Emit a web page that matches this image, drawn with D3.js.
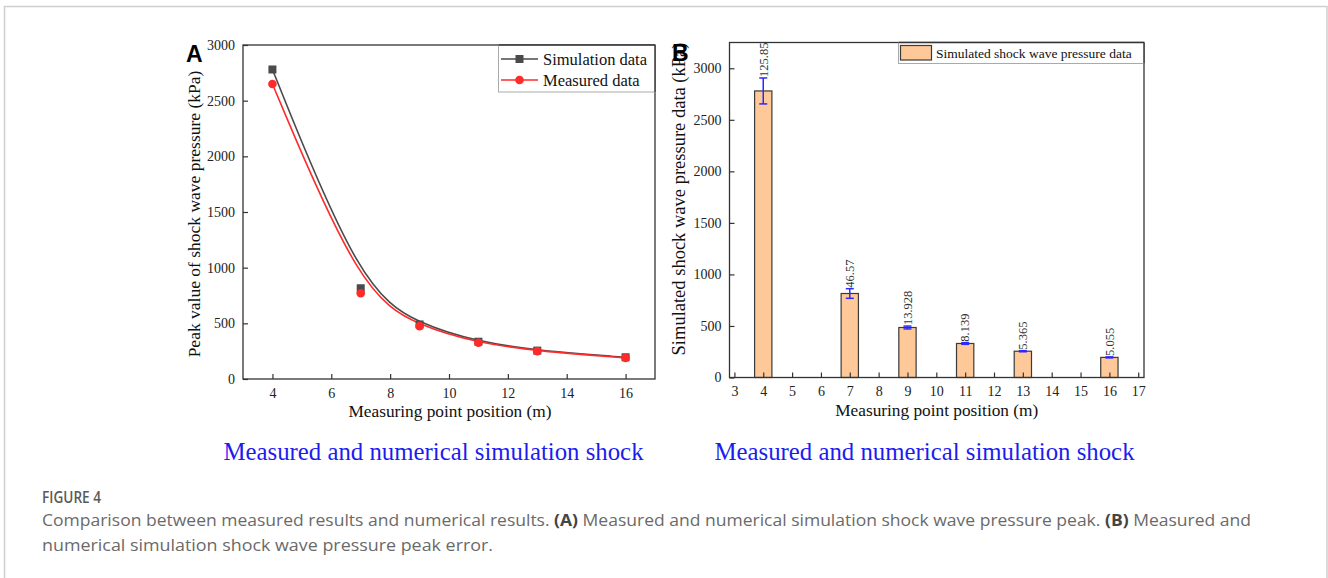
<!DOCTYPE html>
<html><head><meta charset="utf-8">
<script src="https://cdn.jsdelivr.net/npm/d3@7"></script>
<style>
html,body{margin:0;padding:0;background:#fff;}
svg{display:block;}
</style></head>
<body>
<svg id="c" width="1328" height="578"></svg>
<script>
// ---------- DATA ----------
const positions = [4, 7, 9, 11, 13, 16];
const simulationData = [2780, 815, 490, 335, 255, 195];
const measuredData = [2650, 770, 475, 325, 250, 190];
const barValues = [2780, 815, 485, 330, 255, 195];
const barErrors = [125.85, 46.57, 13.928, 8.139, 5.365, 5.055];
const barLabels = ["125.85", "46.57", "13.928", "8.139", "5.365", "5.055"];
const xTicksA = [4, 6, 8, 10, 12, 14, 16];
const yTicksA = [0, 500, 1000, 1500, 2000, 2500, 3000];
const xTicksB = [3,4,5,6,7,8,9,10,11,12,13,14,15,16,17];
const yTicksB = [0, 500, 1000, 1500, 2000, 2500, 3000];
const seriesNamesA = ["Simulation data", "Measured data"];
const seriesNameB = "Simulated shock wave pressure data";

const svg = d3.select("#c");
const serif = "'Liberation Serif','Times New Roman',serif";
const axisCol = "#333";
const fmt = d3.format("d");

// figure frame
svg.append("rect").attr("x",4.5).attr("y",6.5).attr("width",1322.5).attr("height",640)
  .attr("fill","none").attr("stroke","#cfcfcf").attr("stroke-width",1.5);

// ---------- PANEL A ----------
const A = {l:243, r:655, t:45, b:379};
const xA = d3.scaleLinear().domain([3,17]).range([A.l,A.r]);
const yA = d3.scaleLinear().domain([0,3000]).range([A.b,A.t]);
const gA = svg.append("g");

const axA = gA.append("g").attr("transform",`translate(0,${A.b})`)
  .call(d3.axisBottom(xA).tickValues(xTicksA).tickFormat(fmt).tickSizeInner(-5).tickSizeOuter(0).tickPadding(9));
const ayA = gA.append("g").attr("transform",`translate(${A.l},0)`)
  .call(d3.axisLeft(yA).tickValues(yTicksA).tickFormat(fmt).tickSizeInner(-5).tickSizeOuter(0).tickPadding(8));
[axA, ayA].forEach(a=>{
  a.select(".domain").remove();
  a.selectAll("line").attr("stroke",axisCol).attr("stroke-width",1.2);
  a.selectAll("text").attr("font-family",serif).attr("font-size",14).attr("fill","#222");
});
gA.append("rect").attr("x",A.l).attr("y",A.t).attr("width",A.r-A.l).attr("height",A.b-A.t)
  .attr("fill","none").attr("stroke",axisCol).attr("stroke-width",1.3);

const lineA = d3.line().x((d,i)=>xA(positions[i])).y(d=>yA(d)).curve(d3.curveBasis);
const grayC = "#4a4a4a", redC = "#ff2a2a";
gA.append("path").attr("d",lineA(simulationData)).attr("fill","none").attr("stroke",grayC).attr("stroke-width",1.6);
gA.append("path").attr("d",lineA(measuredData)).attr("fill","none").attr("stroke",redC).attr("stroke-width",1.6);
gA.selectAll("rect.sq").data(simulationData).join("rect").attr("class","sq")
  .attr("x",(d,i)=>xA(positions[i])-4).attr("y",d=>yA(d)-4).attr("width",8).attr("height",8).attr("fill",grayC);
gA.selectAll("circle.ms").data(measuredData).join("circle").attr("class","ms")
  .attr("cx",(d,i)=>xA(positions[i])).attr("cy",d=>yA(d)).attr("r",4.3).attr("fill",redC);

// legend A
gA.append("rect").attr("x",498.5).attr("y",A.t).attr("width",A.r-498.5).attr("height",47)
  .attr("fill","#fff").attr("stroke","#aaa").attr("stroke-width",1);
gA.append("line").attr("x1",A.r).attr("x2",A.r).attr("y1",A.t).attr("y2",A.t+47).attr("stroke",axisCol).attr("stroke-width",1.3);
gA.append("line").attr("x1",498.5).attr("x2",A.r).attr("y1",A.t).attr("y2",A.t).attr("stroke",axisCol).attr("stroke-width",1.3);
const legA = [{c:grayC, y:59, m:"sq"},{c:redC, y:80, m:"ci"}];
legA.forEach((L,i)=>{
  gA.append("line").attr("x1",501).attr("x2",538).attr("y1",L.y).attr("y2",L.y).attr("stroke",L.c).attr("stroke-width",1.6);
  if(L.m==="sq") gA.append("rect").attr("x",515.5).attr("y",L.y-4).attr("width",8).attr("height",8).attr("fill",L.c);
  else gA.append("circle").attr("cx",519.5).attr("cy",L.y).attr("r",4.3).attr("fill",L.c);
  gA.append("text").attr("x",543).attr("y",L.y+5.5).text(seriesNamesA[i])
    .attr("font-family",serif).attr("font-size",16.5).attr("fill","#111");
});

// axis titles A
gA.append("text").attr("x",(A.l+A.r)/2+1).attr("y",417).attr("text-anchor","middle")
  .attr("font-family",serif).attr("font-size",17.3).attr("fill","#111").text("Measuring point position (m)");
gA.append("text").attr("transform",`translate(200,${(A.t+A.b)/2+2}) rotate(-90)`).attr("text-anchor","middle")
  .attr("font-family",serif).attr("font-size",17.5).attr("fill","#111").text("Peak value of shock wave pressure (kPa)");
gA.append("text").attr("x",186).attr("y",62).attr("font-family","'Liberation Sans',Arial,sans-serif")
  .attr("font-weight","bold").attr("font-size",23).attr("fill","#000").text("A");

// ---------- PANEL B ----------
const B = {l:729.5, r:1144, t:42.5, b:377.5};
const xB = d3.scaleLinear().domain([2.83,17.2]).range([B.l,B.r]);
const yB = d3.scaleLinear().domain([0,3250]).range([B.b,B.t]);
const gB = svg.append("g");

const barW = xB(4.6)-xB(4);
gB.selectAll("rect.bar").data(barValues).join("rect").attr("class","bar")
  .attr("x",(d,i)=>xB(positions[i])-barW/2).attr("y",d=>yB(d))
  .attr("width",barW).attr("height",d=>B.b-yB(d))
  .attr("fill","#fec898").attr("stroke","#3a3a3a").attr("stroke-width",1.2);

const axB = gB.append("g").attr("transform",`translate(0,${B.b})`)
  .call(d3.axisBottom(xB).tickValues(xTicksB).tickFormat(fmt).tickSizeInner(-5).tickSizeOuter(0).tickPadding(9));
const ayB = gB.append("g").attr("transform",`translate(${B.l},0)`)
  .call(d3.axisLeft(yB).tickValues(yTicksB).tickFormat(fmt).tickSizeInner(-5).tickSizeOuter(0).tickPadding(8));
[axB, ayB].forEach(a=>{
  a.select(".domain").remove();
  a.selectAll("line").attr("stroke",axisCol).attr("stroke-width",1.2);
  a.selectAll("text").attr("font-family",serif).attr("font-size",14).attr("fill","#222");
});
gB.append("rect").attr("x",B.l).attr("y",B.t).attr("width",B.r-B.l).attr("height",B.b-B.t)
  .attr("fill","none").attr("stroke",axisCol).attr("stroke-width",1.3);

// error bars
const errC = "#2b2bff";
barValues.forEach((v,i)=>{
  const cx = xB(positions[i]);
  const y1 = yB(v+barErrors[i]), y2 = yB(v-barErrors[i]);
  gB.append("line").attr("x1",cx).attr("x2",cx).attr("y1",y1).attr("y2",y2).attr("stroke",errC).attr("stroke-width",1.5);
  [y1,y2].forEach(yy=>gB.append("line").attr("x1",cx-4).attr("x2",cx+4).attr("y1",yy).attr("y2",yy).attr("stroke",errC).attr("stroke-width",1.5));
  gB.append("text").attr("transform",`translate(${cx+4.3},${y1-1}) rotate(-90)`)
    .attr("font-family",serif).attr("font-size",12.5).attr("fill","#333").text(barLabels[i]);
});

// legend B
gB.append("rect").attr("x",898.5).attr("y",B.t).attr("width",B.r-898.5).attr("height",21)
  .attr("fill","#fff").attr("stroke","#aaa").attr("stroke-width",1);
gB.append("line").attr("x1",898.5).attr("x2",B.r).attr("y1",B.t).attr("y2",B.t).attr("stroke",axisCol).attr("stroke-width",1.3);
gB.append("line").attr("x1",B.r).attr("x2",B.r).attr("y1",B.t).attr("y2",B.t+21).attr("stroke",axisCol).attr("stroke-width",1.3);
gB.append("rect").attr("x",900.5).attr("y",45.5).attr("width",31).attr("height",14.5)
  .attr("fill","#fec898").attr("stroke","#3a3a3a").attr("stroke-width",1.2);
gB.append("text").attr("x",936).attr("y",57.5).attr("font-family",serif).attr("font-size",13.5)
  .attr("fill","#111").text(seriesNameB);

gB.append("text").attr("x",(B.l+B.r)/2).attr("y",416).attr("text-anchor","middle")
  .attr("font-family",serif).attr("font-size",17.3).attr("fill","#111").text("Measuring point position (m)");
gB.append("text").attr("transform",`translate(685,${199}) rotate(-90)`).attr("text-anchor","middle")
  .attr("font-family",serif).attr("font-size",18.5).attr("fill","#111").text("Simulated shock wave pressure data (kPa)");
gB.append("text").attr("x",672).attr("y",61).attr("font-family","'Liberation Sans',Arial,sans-serif")
  .attr("font-weight","bold").attr("font-size",23).attr("fill","#000").text("B");

// blue sub-captions
const subCap = "Measured and numerical simulation shock";
[433.5, 924.5].forEach(cx=>{
  svg.append("text").attr("x",cx).attr("y",460).attr("text-anchor","middle")
    .attr("font-family",serif).attr("font-size",24.8).attr("fill","#1c1cf0").text(subCap);
});

// figure caption
const sans = "'Open Sans','Noto Sans',sans-serif";
svg.append("text").attr("x",42).attr("y",503).attr("font-family",sans).attr("font-size",16.5)
  .attr("font-weight",600).attr("fill","#5a5a5a").attr("textLength",59).attr("lengthAdjust","spacingAndGlyphs").text("FIGURE 4");
const l1 = svg.append("text").attr("x",42).attr("y",526).attr("font-family",sans).attr("font-size",16.5).attr("fill","#6a6a6a");
l1.append("tspan").text("Comparison between measured results and numerical results. ");
l1.append("tspan").attr("font-weight",700).attr("fill","#444").text("(A)");
l1.append("tspan").text(" Measured and numerical simulation shock wave pressure peak. ");
l1.append("tspan").attr("font-weight",700).attr("fill","#444").text("(B)");
l1.append("tspan").text(" Measured and");
l1.attr("textLength",1209).attr("lengthAdjust","spacingAndGlyphs");
svg.append("text").attr("x",42).attr("y",551).attr("font-family",sans).attr("font-size",16.5).attr("fill","#6a6a6a")
  .attr("textLength",451).attr("lengthAdjust","spacingAndGlyphs")
  .text("numerical simulation shock wave pressure peak error.");
</script>
</body></html>
